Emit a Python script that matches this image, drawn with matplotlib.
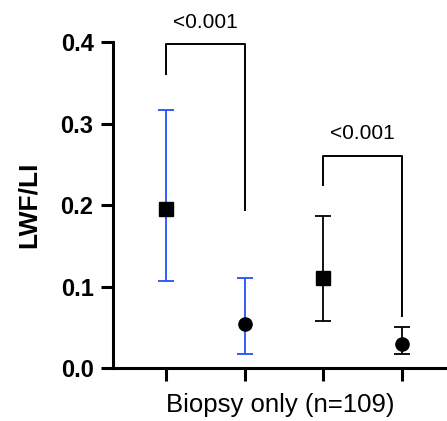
import matplotlib.pyplot as plt

plt.rcParams['font.family'] = ['Liberation Sans', 'DejaVu Sans']

# data
groups = [0, 1, 2, 3]
means = [0.195, 0.054, 0.111, 0.030]
lower = [0.107, 0.017, 0.058, 0.017]
upper = [0.316, 0.111, 0.186, 0.050]
markers = ['s', 'o', 's', 'o']
err_colors = ['#2150ff', '#2150ff', 'black', 'black']

# significance brackets: (left x, right x, top y, left leg end, right leg end, label)
brackets = [
    (0, 1, 0.397, 0.361, 0.194, '<0.001'),
    (2, 3, 0.2605, 0.224, 0.064, '<0.001'),
]

fig = plt.figure(figsize=(4.47, 4.21), dpi=100)
ax = fig.add_axes([0.2528, 0.1259, 0.7472, 0.7743])

for x, m, lo, hi, mk, c in zip(groups, means, lower, upper, markers, err_colors):
    ax.errorbar([x], [m], yerr=[[m - lo], [hi - m]], fmt='none', ecolor=c,
                elinewidth=1.3, capsize=5.5, capthick=1.3, zorder=2)
    ax.plot([x], [m], marker=mk, color='black', markersize=10 if mk == 's' else 9.5,
            linestyle='none', zorder=3)

for x0, x1, top, l_end, r_end, lab in brackets:
    ax.plot([x0, x0, x1, x1], [l_end, top, top, r_end], color='black', lw=1.4,
            clip_on=False, zorder=1)
    ax.text((x0 + x1) / 2, top + 0.015, lab, ha='center', va='bottom', fontsize=15,
            clip_on=False)

ax.set_xlim(-0.674, 3.57)
ax.set_ylim(0, 0.4)
ax.set_yticks([0.0, 0.1, 0.2, 0.3, 0.4])
ax.set_yticklabels(['0.0', '0.1', '0.2', '0.3', '0.4'], fontsize=17, fontweight='bold')
ax.set_xticks(groups)
ax.set_xticklabels([])
ax.set_ylabel('LWF/LI', fontsize=19, fontweight='bold', labelpad=14)
ax.set_xlabel('Biopsy only (n=109)', fontsize=18.5, labelpad=4)

for s in ['top', 'right']:
    ax.spines[s].set_visible(False)
for s in ['left', 'bottom']:
    ax.spines[s].set_linewidth(2.2)
ax.tick_params(width=2.2, length=9, direction='out', pad=5)

fig.savefig('out.png', dpi=100)
